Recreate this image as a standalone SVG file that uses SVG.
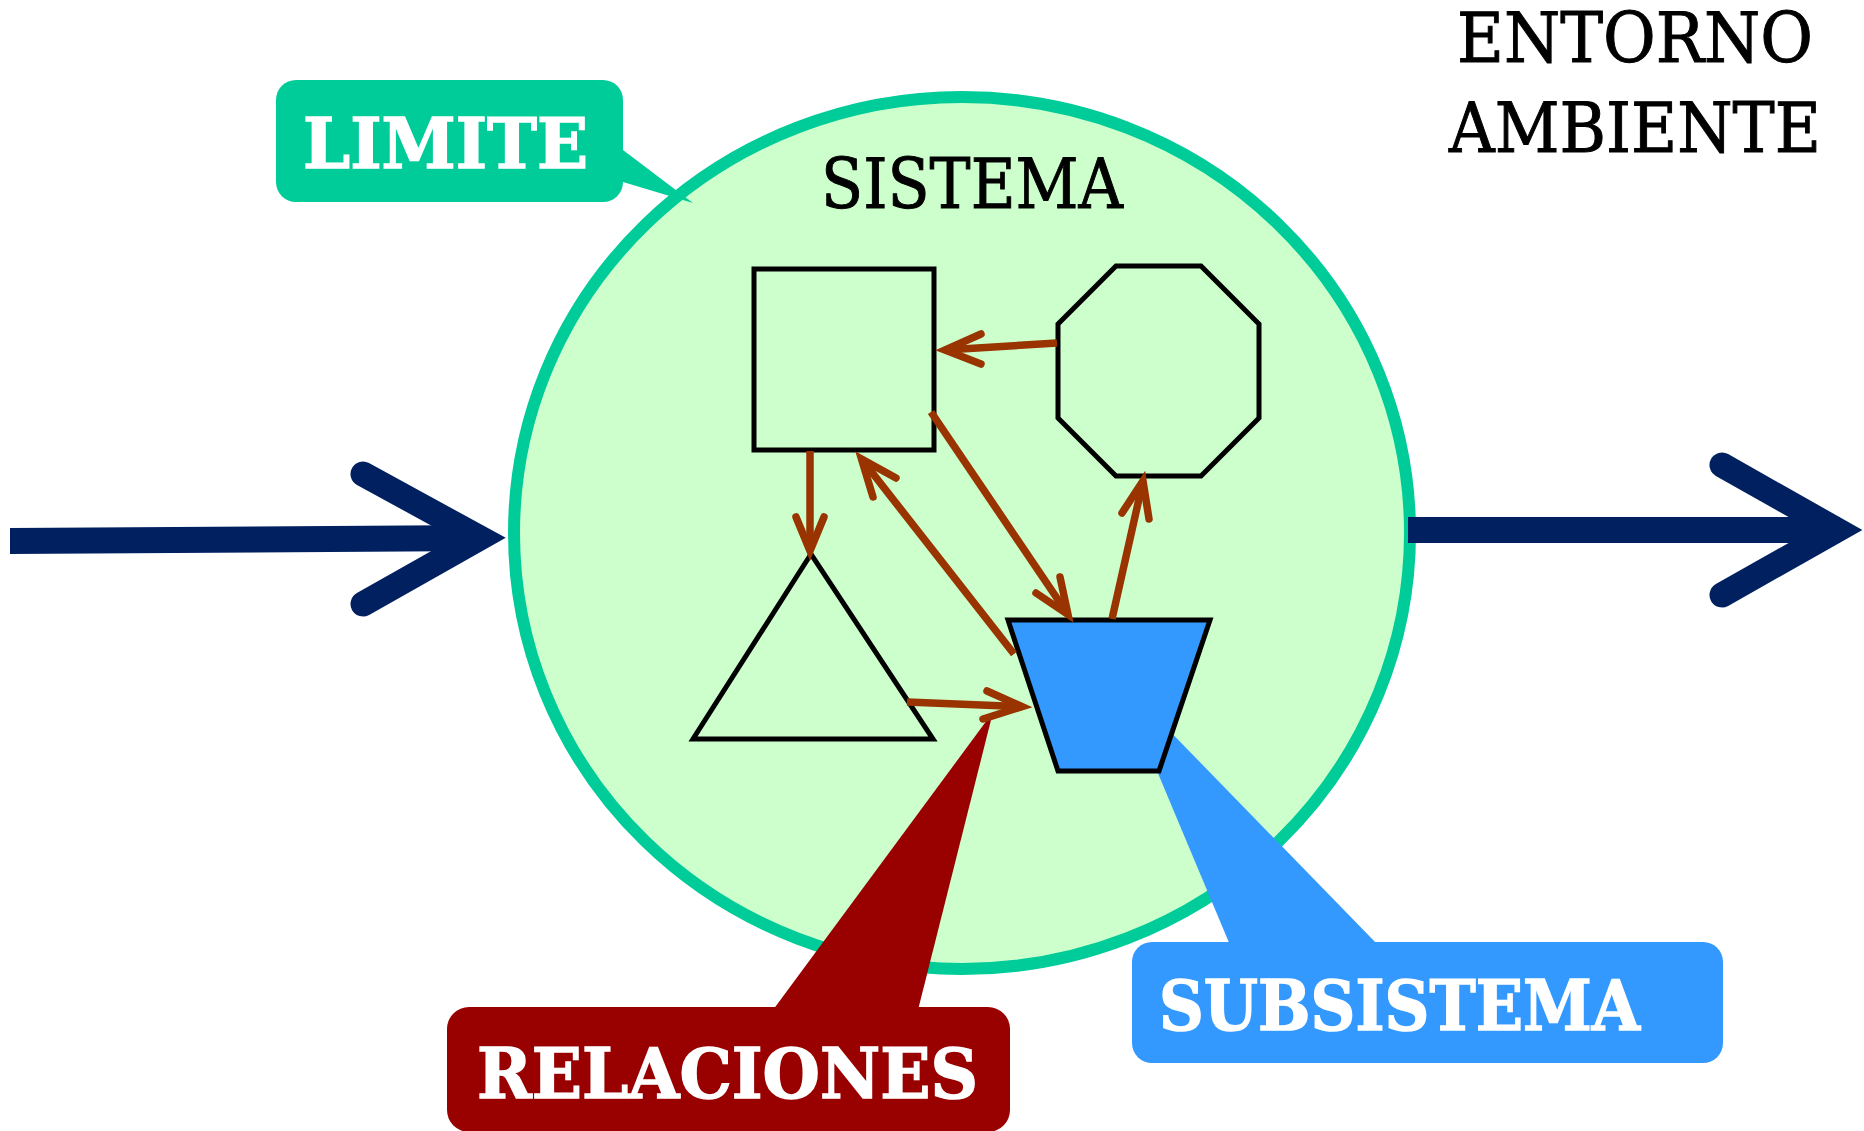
<svg xmlns="http://www.w3.org/2000/svg" width="1864" height="1131" viewBox="0 0 1864 1131">
<style>
.shape{fill:none;stroke:#000;stroke-width:5;stroke-linejoin:miter}
.blue{fill:#3399FF}
.rel{fill:none;stroke:#993300;stroke-width:7.5;stroke-linecap:butt}
.head{fill:none;stroke:#993300;stroke-width:7.5;stroke-linecap:round;stroke-linejoin:miter}
.navy{fill:#002060}
.navyhead{fill:none;stroke:#002060;stroke-width:25;stroke-linecap:round;stroke-linejoin:miter}
.lbl{font-family:"DejaVu Serif","Liberation Serif",serif;font-weight:bold;font-size:69px;fill:#fff;stroke:#fff;stroke-width:1.5}
.ttl{font-family:"DejaVu Serif","Liberation Serif",serif;font-size:69px;fill:#000;stroke:#000;stroke-width:1}
</style>
<rect width="1864" height="1131" fill="#fff"/>
<g id="sistema">
<ellipse cx="962" cy="533" rx="448" ry="436" fill="#CCFFCC" stroke="#00CC99" stroke-width="12"/>
<text class="ttl" x="821" y="208" textLength="302" lengthAdjust="spacingAndGlyphs">SISTEMA</text>
</g>
<g id="limite">
<path d="M623,150 L693,203 L623,182 Z" fill="#00CC99"/>
<rect x="276" y="80" width="347" height="122" rx="20" fill="#00CC99"/>
<text class="lbl" x="303" y="168" textLength="285" lengthAdjust="spacingAndGlyphs">LIMITE</text>
</g>
<g id="relaciones">
<path d="M773,1010 L993,712 L918,1010 Z" fill="#990000"/>
<rect x="447" y="1007" width="563" height="125" rx="22" fill="#990000"/>
<text class="lbl" x="477" y="1098" textLength="501" lengthAdjust="spacingAndGlyphs">RELACIONES</text>
</g>
<g id="subsistema">
<path d="M1230,945 L1118,678 L1378,945 Z" fill="#3399FF"/>
<rect x="1132" y="942" width="591" height="121" rx="20" fill="#3399FF"/>
<text class="lbl" x="1159" y="1030" textLength="481" lengthAdjust="spacingAndGlyphs">SUBSISTEMA</text>
</g>
<g id="cuadrado"><rect class="shape" x="754" y="269" width="180" height="181"/></g>
<g id="octagono"><polygon class="shape" points="1116,266 1201,266 1259,324 1259,418 1201,476 1116,476 1058,418 1058,324"/></g>
<g id="triangulo"><polygon class="shape" points="811,554 693,739 933,739"/></g>
<g id="trapecio"><polygon class="shape blue" style="fill:#3399FF" points="1008,620 1210,620 1159,771 1058,771"/></g>
<g id="connectors">
<path class="rel" d="M1057,343 L945,350"/>
<path class="head" d="M981,334 L945,350 L981,364"/>
<path class="rel" d="M810,451 L810,551"/>
<path class="head" d="M796,517 L810,551 L824,517"/>
<path class="rel" d="M1014,654 L861.5,459"/>
<path class="head" d="M896,478 L861.5,459 L873,497"/>
<path class="rel" d="M931,412 L1068,614.5"/>
<path class="head" d="M1060,577 L1068,614.5 L1036,593"/>
<path class="rel" d="M1112,619 L1143,481"/>
<path class="head" d="M1122,513 L1143,481 L1149,519"/>
<path class="rel" d="M907,702 L1022,706.6"/>
<path class="head" d="M987,691 L1022,706.6 L983,719"/>
<g id="entrada">
<polygon class="navy" points="10,528 482,525 482,551 10,554"/>
<polyline class="navyhead" points="363,474 480,538 363,604"/>
</g>
<g id="salida">
<polygon class="navy" points="1408,517 1840,517 1840,543 1408,543"/>
<polyline class="navyhead" points="1722,465 1837,530 1722,595"/>
</g>
</g>
<g id="entorno">
<text class="ttl" x="1457" y="62" textLength="356" lengthAdjust="spacingAndGlyphs">ENTORNO</text>
<text class="ttl" x="1449" y="152" font-size="71" textLength="372" lengthAdjust="spacingAndGlyphs">AMBIENTE</text>
</g>
</svg>
